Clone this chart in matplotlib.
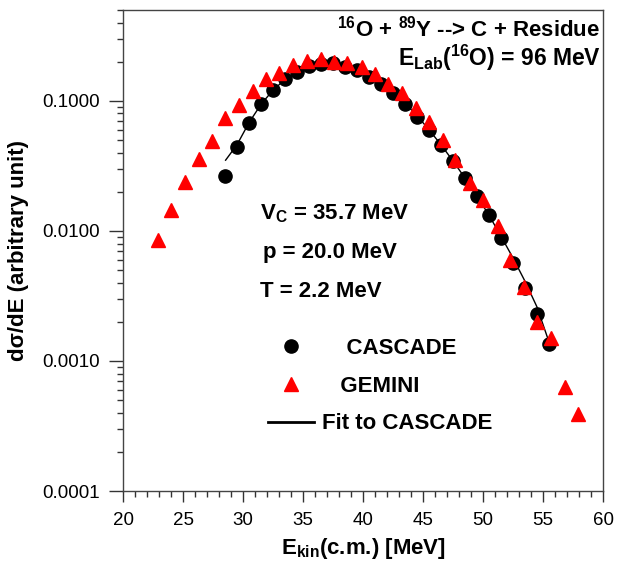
import matplotlib
matplotlib.use("Agg")
import matplotlib.pyplot as plt
from matplotlib.ticker import LogLocator, FixedLocator, MultipleLocator

plt.rcParams['font.family'] = ['Liberation Sans', 'DejaVu Sans']
plt.rcParams['mathtext.fontset'] = 'custom'
plt.rcParams['mathtext.rm'] = 'Liberation Sans:bold'
plt.rcParams['mathtext.bf'] = 'Liberation Sans:bold'
plt.rcParams['mathtext.it'] = 'Liberation Sans:bold'
plt.rcParams['mathtext.default'] = 'bf'

# CASCADE points
cascade_e = [28.5, 29.5, 30.5, 31.5, 32.5, 33.5, 34.5, 35.5, 36.5, 37.5,
             38.5, 39.5, 40.5, 41.5, 42.5, 43.5, 44.5, 45.5, 46.5, 47.5,
             48.5, 49.5, 50.5, 51.5, 52.5, 53.5, 54.5, 55.5]
cascade_y = [0.0265, 0.0443, 0.0677, 0.0948, 0.1215, 0.1476, 0.167, 0.186, 0.193, 0.196,
             0.183, 0.173, 0.153, 0.135, 0.115, 0.0948, 0.0753, 0.0598, 0.0459, 0.0345,
             0.0256, 0.0186, 0.0133, 0.00883, 0.00567, 0.00365, 0.0023, 0.00135]

# GEMINI points
gemini_e = [22.9, 24.0, 25.2, 26.3, 27.4, 28.5, 29.7, 30.8, 31.9, 33.0,
            34.2, 35.3, 36.5, 37.6, 38.7, 39.9, 41.0, 42.1, 43.25, 44.4,
            45.5, 46.7, 47.7, 48.9, 50.0, 51.25, 52.25, 53.4, 54.5, 55.7,
            56.8, 57.9]
gemini_y = [0.00853, 0.01451, 0.0238, 0.0358, 0.0493, 0.0740, 0.0932, 0.1194, 0.1476, 0.164,
            0.189, 0.203, 0.210, 0.1995, 0.196, 0.183, 0.1615, 0.135, 0.115, 0.0883,
            0.0689, 0.0501, 0.0352, 0.0234, 0.0173, 0.0109, 0.00598, 0.00371, 0.00200, 0.00150,
            0.00063, 0.00039]

# fit curve
fit_e = [28.55, 29.5, 30.5, 31.5, 32.5, 33.5, 34.5, 35.5, 36.5, 37.5,
         38.5, 39.5, 40.5, 41.5, 42.5, 43.5, 44.5, 45.5, 46.5, 47.5,
         48.5, 49.5, 50.5, 51.5, 52.5, 53.5, 54.5, 55.5]
fit_y = [0.035, 0.046, 0.068, 0.094, 0.121, 0.146, 0.166, 0.182, 0.192, 0.195,
         0.190, 0.178, 0.160, 0.139, 0.117, 0.096, 0.077, 0.060, 0.046, 0.0345,
         0.0255, 0.0185, 0.0132, 0.0091, 0.0062, 0.0041, 0.0026, 0.0014]

y_ticks = [0.0001, 0.001, 0.01, 0.1]
y_tick_labels = ['0.0001', '0.0010', '0.0100', '0.1000']

fig = plt.figure(figsize=(6.18, 5.73), dpi=100)
ax = fig.add_axes([123/618, 82/573, 480/618, 481/573])

ax.plot(fit_e, fit_y, color='black', lw=1.0, zorder=2, label='Fit to CASCADE')
ax.plot(cascade_e, cascade_y, 'o', color='black', ms=9.5, ls='none', zorder=3,
        label='    CASCADE')
ax.plot(gemini_e, gemini_y, '^', color='#ff0000', ms=10, ls='none', zorder=4,
        label='   GEMINI')

ax.set_yscale('log')
ax.set_xlim(20, 60)
ax.set_ylim(0.0001, 0.5)
ax.xaxis.set_major_locator(MultipleLocator(5))
ax.xaxis.set_minor_locator(MultipleLocator(1))
ax.yaxis.set_major_locator(FixedLocator(y_ticks))
ax.set_yticklabels(y_tick_labels)
ax.yaxis.set_minor_locator(LogLocator(base=10, subs=range(2, 10)))
ax.yaxis.set_minor_formatter(plt.NullFormatter())

ax.tick_params(which='both', direction='out', top=False, right=False,
               labelsize=13.5, color='#333333', width=1)
ax.tick_params(which='major', length=8, pad=7)
ax.tick_params(which='minor', length=4.5)
ax.tick_params(axis='y', which='major', length=10)
for s in ax.spines.values():
    s.set_color('#444444')
    s.set_linewidth(1.0)

ax.set_xlabel('E$_{kin}$(c.m.) [MeV]', fontsize=16, fontweight='bold', labelpad=5)
ax.set_ylabel('dσ/dE (arbitrary unit)', fontsize=16, fontweight='bold', labelpad=9)

ax.text(0.995, 0.945, '$^{16}$O + $^{89}$Y --> C + Residue', transform=ax.transAxes,
        ha='right', va='baseline', fontsize=16, fontweight='bold')
ax.text(0.995, 0.883, 'E$_{Lab}$($^{16}$O) = 96 MeV', transform=ax.transAxes,
        ha='right', va='baseline', fontsize=16.5, fontweight='bold')

ax.text(0.285, 0.565, 'V$_C$ = 35.7 MeV', transform=ax.transAxes,
        ha='left', va='baseline', fontsize=16, fontweight='bold')
ax.text(0.292, 0.485, 'p = 20.0 MeV', transform=ax.transAxes,
        ha='left', va='baseline', fontsize=16, fontweight='bold')
ax.text(0.285, 0.403, 'T = 2.2 MeV', transform=ax.transAxes,
        ha='left', va='baseline', fontsize=16, fontweight='bold')

h, l = ax.get_legend_handles_labels()
leg = ax.legend([h[1], h[2], h[0]], [l[1], l[2], l[0]], loc='center left',
                bbox_to_anchor=(0.302, 0.218), frameon=False, borderpad=0,
                borderaxespad=0, handlelength=2.05, handletextpad=0.4,
                labelspacing=0.75, prop={'size': 16, 'weight': 'bold'})
leg.get_lines()[2].set_linewidth(2.0)

fig.savefig('out.png', dpi=100)
